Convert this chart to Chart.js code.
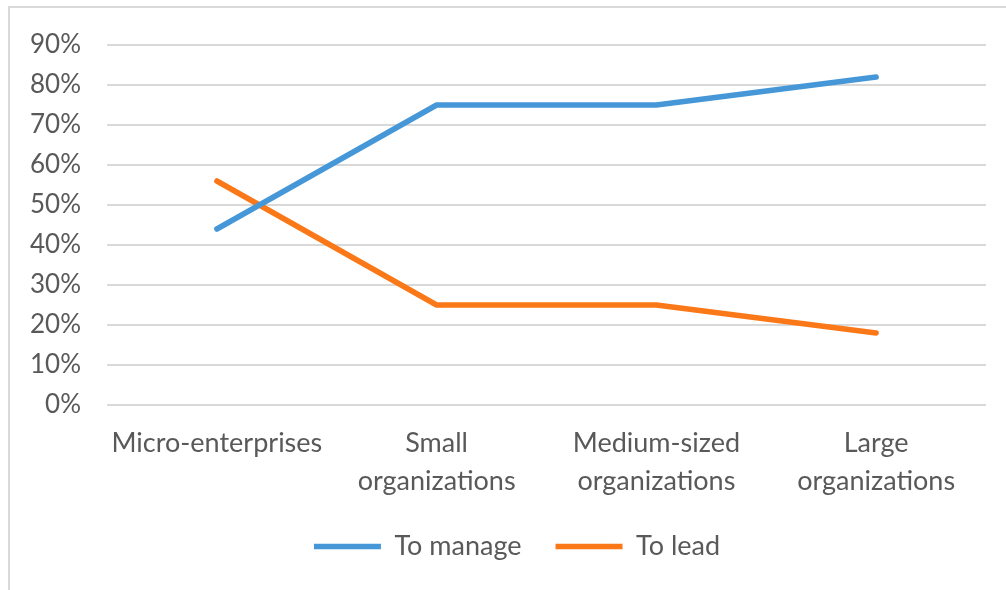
<!DOCTYPE html>
<html>
<head>
<meta charset="utf-8">
<script src="https://cdn.jsdelivr.net/npm/chart.js@4/dist/chart.umd.min.js"></script>
<style>
  html, body { margin: 0; padding: 0; background: #fff; overflow: hidden; }
  #frame {
    position: absolute; left: 8px; top: 6px; width: 1020px; height: 610px;
    border: 2px solid #d9d9d9; box-sizing: border-box;
  }
  #wrap { position: absolute; left: 0; top: 0; width: 1006px; height: 590px; }
</style>
</head>
<body>
<div id="frame"></div>
<div id="wrap"><canvas id="chart"></canvas></div>
<script>
// -- Data -----------------------------------------------------------------

const categories = [
  'Micro-enterprises',
  ['Small', 'organizations'],
  ['Medium-sized', 'organizations'],
  ['Large', 'organizations'],
];
const toManage = [0.44, 0.75, 0.75, 0.82];
const toLead = [0.56, 0.25, 0.25, 0.18];
const yMax = 0.9;
const yStep = 0.1;

// -- Style ----------------------------------------------------------------

const TEXT = '#595959';
const GRID = '#d9d9d9';
const BLUE = '#4597d8';
const ORANGE = '#fb7818';
const FONT = 'Lato';

Chart.defaults.animation = false;
Chart.defaults.font.family = FONT;

function series(label, data, color) {
  return {
    label,
    data,
    borderColor: color,
    backgroundColor: color,
    borderWidth: 5.5,
    borderCapStyle: 'round',
    borderJoinStyle: 'round',
    pointRadius: 0,
    pointHoverRadius: 0,
    pointStyle: 'line',
    tension: 0,
    fill: false,
  };
}

// Legend in the original sits a bit right of the canvas centre
const legendNudge = {
  id: 'legendNudge',
  afterLayout(chart) {
    chart.legend.left += 24;
    chart.legend.right += 24;
  },
};

new Chart(document.getElementById('chart'), {
  type: 'line',
  data: {
    labels: categories,
    datasets: [
      series('To manage', toManage, BLUE),
      series('To lead', toLead, ORANGE),
    ],
  },
  options: {
    responsive: true,
    maintainAspectRatio: false,
    layout: { padding: { top: 45, right: 20, bottom: 20, left: 0 } },
    scales: {
      x: {
        offset: true,
        clip: false,
        grid: { display: false },
        border: { display: false },
        ticks: {
          color: TEXT,
          padding: 11,
          maxRotation: 0,
          autoSkip: false,
          font: { size: 27, lineHeight: 1.41 },
        },
        afterFit: (scale) => { scale.height = 94; },
      },
      y: {
        min: 0,
        max: yMax,
        grid: { color: GRID, lineWidth: 2, drawTicks: false },
        border: { display: false },
        ticks: {
          stepSize: yStep,
          color: TEXT,
          padding: 26,
          font: { size: 26 },
          callback: (v) => Math.round(v * 100) + '%',
        },
        afterFit: (scale) => { scale.width = 107; },
      },
    },
    plugins: {
      tooltip: { enabled: false },
      legend: {
        position: 'bottom',
        labels: {
          usePointStyle: true,
          pointStyleWidth: 67,
          boxHeight: 5,
          padding: 34,
          color: TEXT,
          font: { size: 27 },
        },
      },
    },
  },
  plugins: [legendNudge],
});
</script>
</body>
</html>
